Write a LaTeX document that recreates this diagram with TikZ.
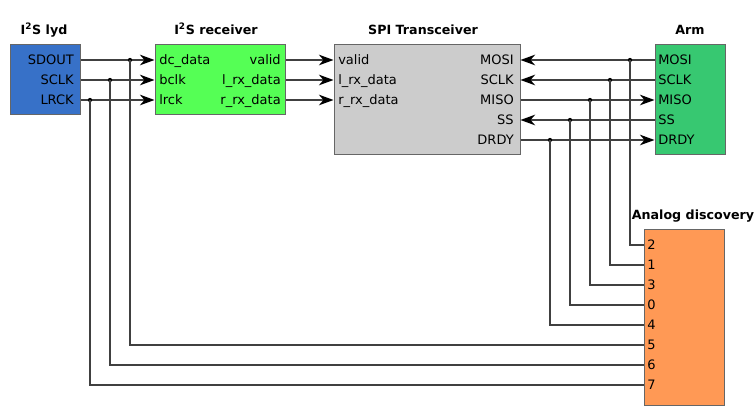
\documentclass[tikz,border=0pt]{standalone}
\usepackage{fontspec}
\setmainfont{DejaVu Sans}
\usetikzlibrary{arrows.meta}
\definecolor{lydblue}{HTML}{3771C8}
\definecolor{rxgreen}{HTML}{55FF55}
\definecolor{spigray}{HTML}{CCCCCC}
\definecolor{armgreen}{HTML}{37C871}
\definecolor{adorange}{HTML}{FF9955}
\begin{document}
\begin{tikzpicture}[x=0.75pt,y=-0.75pt,
  wire/.style={draw=black!75,line width=0.9pt},
  sig/.style={wire,-{Stealth[length=11pt,width=8pt,inset=3.5pt,black]}},
  box/.style={draw=black!60,line width=0.75pt,inner sep=0pt},
  pin/.style={inner sep=0pt,text height=7.1pt,text depth=0pt,font=\fontsize{9.75}{12}\selectfont},
  title/.style={pin,font=\fontsize{9.5}{12}\selectfont\bfseries},
  jdot/.style={circle,fill=black,inner sep=0pt,minimum size=3.2pt}]
\useasboundingbox (0,0) rectangle (756,416);
% boxes
\node[box,fill=lydblue,minimum width=52.5pt,minimum height=52.5pt] (lyd) at (45,80) {};
\node[box,fill=rxgreen,minimum width=97.5pt,minimum height=52.5pt] (rx) at (220,80) {};
\node[box,fill=spigray,minimum width=139.5pt,minimum height=82.5pt] (spi) at (427,100) {};
\node[box,fill=armgreen,minimum width=52.5pt,minimum height=82.5pt] (arm) at (690,100) {};
\node[box,fill=adorange,minimum width=60pt,minimum height=131.25pt] (ad) at (684,317.5) {};
% titles
\node[title] (tlyd) at (44,30) {I\textsuperscript{2}S lyd};
\node[title] (trx) at (216,30) {I\textsuperscript{2}S receiver};
\node[title] (tspi) at (423,30) {SPI Transceiver};
\node[title] (tarm) at (690,30) {Arm};
\node[title] (tad) at (693,215) {Analog discovery};
% pins
\foreach \n/\t/\y in {lsdout/SDOUT/60,lsclk/SCLK/80,llrck/LRCK/100}
  \node[pin,anchor=east] (\n) at (74,\y) {\t};
\foreach \n/\t/\y in {rdc/dc\_data/60,rbclk/bclk/80,rlrck/lrck/100}
  \node[pin,anchor=west] (\n) at (159,\y) {\t};
\foreach \n/\t/\y in {rvalid/valid/60,rl/l\_rx\_data/80,rr/r\_rx\_data/100}
  \node[pin,anchor=east] (\n) at (281,\y) {\t};
\foreach \n/\t/\y in {svalid/valid/60,sl/l\_rx\_data/80,sr/r\_rx\_data/100}
  \node[pin,anchor=west] (\n) at (338,\y) {\t};
\foreach \n/\t/\y in {smosi/MOSI/60,ssclk/SCLK/80,smiso/MISO/100,sss/SS/120,sdrdy/DRDY/140}
  \node[pin,anchor=east] (\n) at (514,\y) {\t};
\foreach \n/\t/\y in {amosi/MOSI/60,asclk/SCLK/80,amiso/MISO/100,ass/SS/120,adrdy/DRDY/140}
  \node[pin,anchor=west] (\n) at (658,\y) {\t};
\foreach \p [count=\i] in {2,1,3,0,4,5,6,7}
  \node[pin,anchor=west] (d\p) at (647,225+20*\i) {\p};
% signals
\draw[sig] (lyd.east |- lsdout) -- (rx.west |- rdc);
\draw[sig] (lyd.east |- lsclk) -- (rx.west |- rbclk);
\draw[sig] (lyd.east |- llrck) -- (rx.west |- rlrck);
\draw[sig] (rx.east |- rvalid) -- (spi.west |- svalid);
\draw[sig] (rx.east |- rl) -- (spi.west |- sl);
\draw[sig] (rx.east |- rr) -- (spi.west |- sr);
\draw[sig] (arm.west |- amosi) -- (spi.east |- smosi);
\draw[sig] (arm.west |- asclk) -- (spi.east |- ssclk);
\draw[sig] (spi.east |- smiso) -- (arm.west |- amiso);
\draw[sig] (arm.west |- ass) -- (spi.east |- sss);
\draw[sig] (spi.east |- sdrdy) -- (arm.west |- adrdy);
% probes to analog discovery
\foreach \x/\y/\p in {130/60/5,110/80/6,90/100/7,630/60/2,610/80/1,590/100/3,570/120/0,550/140/4}{
  \node[jdot] (j\p) at (\x,\y) {};
  \draw[wire] (j\p.center) |- (ad.west |- d\p);
}
\end{tikzpicture}
\end{document}
